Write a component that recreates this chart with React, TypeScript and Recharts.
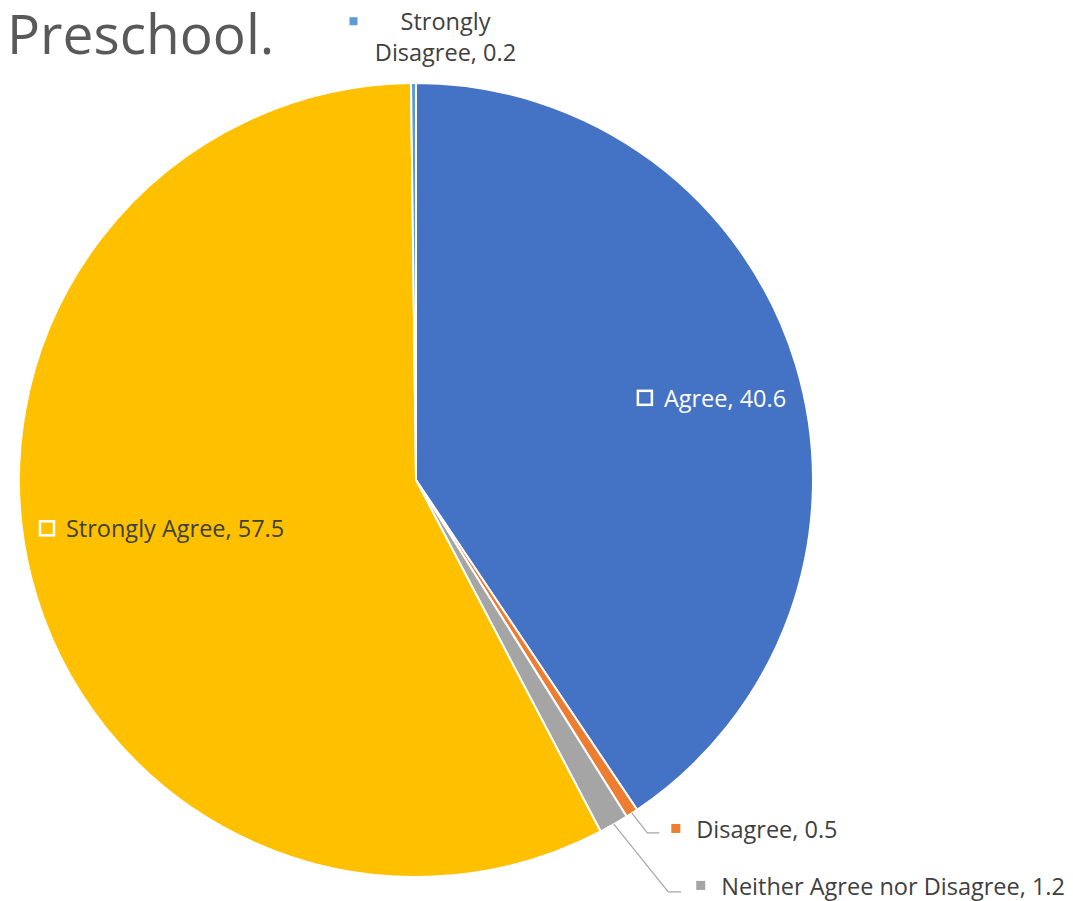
import React from 'react'
import { PieChart, Pie, Cell } from 'recharts'

// survey answers, clockwise from 12 o'clock
const answers = ['Agree', 'Disagree', 'Neither Agree nor Disagree', 'Strongly Agree', 'Strongly Disagree']
const shares = [40.6, 0.5, 1.2, 57.5, 0.2]
const sliceColors = ['#4472C4', '#ED7D31', '#A5A5A5', '#FFC000', '#5B9BD5']

// how each data label is placed (inside, above, or with a leader line)
type Placement =
  | { kind: 'inside'; rf: number; shift: number; textColor: string }
  | { kind: 'top'; ext: number; shift: number }
  | { kind: 'leader'; ext: number; shift: number; run: number; gap: number; lift: number }

const placements: Placement[] = [
  { kind: 'inside', rf: 0.596, shift: 3.4, textColor: '#ffffff' },
  { kind: 'leader', ext: 25, shift: 0.3, run: 12, gap: 24, lift: 4 },
  { kind: 'leader', ext: 86, shift: 1.6, run: 13, gap: 28, lift: 6 },
  { kind: 'inside', rf: 0.955, shift: -6.9, textColor: '#404040' },
  { kind: 'top', ext: 66, shift: 7.4 },
]

const RAD = Math.PI / 180
const FONT = '"Open Sans", sans-serif'
const LABEL_SIZE = 23.5
const polar = (cx: number, cy: number, r: number, a: number) => [cx + r * Math.cos(-a * RAD), cy + r * Math.sin(-a * RAD)]

function renderLabel(props: any) {
  const { cx, cy, midAngle, outerRadius, index } = props
  const p = placements[index]
  const label = `${answers[index]}, ${shares[index]}`
  const color = sliceColors[index]

  if (p.kind === 'inside') {
    const [x, y] = polar(cx, cy, outerRadius * p.rf, midAngle + p.shift)
    return (
      <g key={`l${index}`}>
        <rect x={x} y={y - 7} width={14} height={14} fill="none" stroke="#fff" strokeWidth={2.5} />
        <text x={x + 26} y={y} dominantBaseline="central" fontSize={LABEL_SIZE} fontFamily={FONT} fill={p.textColor}>
          {label}
        </text>
      </g>
    )
  }

  if (p.kind === 'top') {
    const [x, y] = polar(cx, cy, outerRadius + p.ext, midAngle + p.shift)
    return (
      <g key={`l${index}`}>
        <rect x={x - 4} y={y - 4} width={8} height={8} fill={color} />
        <text x={x + 92} y={y} dominantBaseline="central" textAnchor="middle" fontSize={LABEL_SIZE} fontFamily={FONT} fill="#404040">
          Strongly
        </text>
        <text x={x + 92} y={y + 31} dominantBaseline="central" textAnchor="middle" fontSize={LABEL_SIZE} fontFamily={FONT} fill="#404040">
          {`Disagree, ${shares[index]}`}
        </text>
      </g>
    )
  }

  // outside label joined to its slice by a bent leader line
  const [sx, sy] = polar(cx, cy, outerRadius, midAngle)
  const [ex, ey] = polar(cx, cy, outerRadius + p.ext, midAngle + p.shift)
  const bx = ex + p.gap
  return (
    <g key={`l${index}`}>
      <polyline points={`${sx},${sy} ${ex},${ey} ${ex + p.run},${ey}`} fill="none" stroke="#A6A6A6" strokeWidth={1.2} />
      <rect x={bx} y={ey - p.lift - 5} width={9} height={9} fill={color} />
      <text x={bx + 25} y={ey - p.lift} dominantBaseline="central" fontSize={LABEL_SIZE} fontFamily={FONT} fill="#404040">
        {label}
      </text>
    </g>
  )
}

export default function App() {
  const data = answers.map((name, i) => ({ name, value: shares[i] }))

  return (
    <div style={{ position: 'absolute', left: 0, top: 0, width: 1073, height: 901, background: '#fff' }}>
      <svg width={300} height={70} style={{ position: 'absolute', left: 0, top: 0 }}>
        <text x={7} y={54} fontFamily={FONT} fontSize={55} fill="#595959">
          Preschool.
        </text>
      </svg>
      <PieChart width={1073} height={901} margin={{ top: 0, right: 0, bottom: 0, left: 0 }}>
        <Pie
          data={data}
          dataKey="value"
          cx={416}
          cy={480}
          outerRadius={397}
          startAngle={90}
          endAngle={-270}
          stroke="#ffffff"
          strokeWidth={2}
          labelLine={false}
          label={renderLabel}
          isAnimationActive={false}
        >
          {data.map((d, i) => (
            <Cell key={d.name} fill={sliceColors[i]} />
          ))}
        </Pie>
      </PieChart>
    </div>
  )
}
